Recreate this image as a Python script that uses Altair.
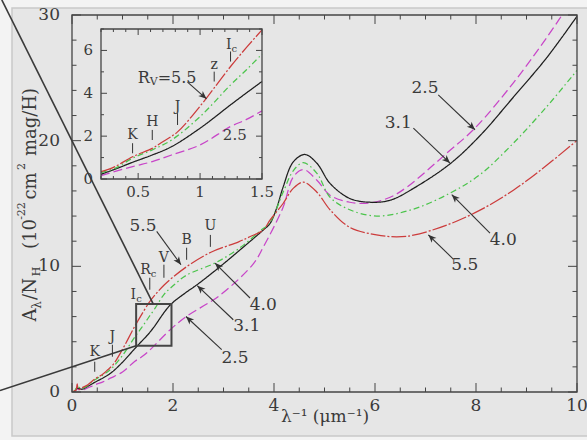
import math
import altair as alt
import pandas as pd

# ---------------------------------------------------------------------------
# Extinction per H nucleon, A_lambda/N_H (1e-22 cm^2 mag/H), versus 1/lambda (um^-1)
# ---------------------------------------------------------------------------
rv25_x = [0, 0.05, 0.103, 0.2, 0.455, 0.614, 0.77, 1.0, 1.246, 1.375, 1.5, 1.94, 2.26,
          2.93, 3.59, 3.79, 4.18, 4.38, 4.58, 4.85, 5.11, 5.5, 5.9, 6.3, 6.63, 7.42,
          7.98, 8.74, 9.4, 10.0]
rv25_y = [0, 0.04, 0.22, 0.16, 0.58, 0.81, 1.12, 1.59, 2.45, 2.78, 3.18, 4.94, 6.0,
          7.7, 10.2, 11.55, 14.7, 17.1, 17.7, 16.85, 15.66, 15.1, 15.05, 15.5, 16.3, 19.0,
          21.0, 24.6, 28.2, 31.8]

rv31_x = [0, 0.05, 0.103, 0.2, 0.31, 0.455, 0.614, 0.77, 1.0, 1.246, 1.375, 1.5, 1.61,
          1.94, 2.25, 2.48, 2.93, 3.46, 3.79, 3.92, 4.05, 4.18, 4.38, 4.61, 4.85, 5.11,
          5.5, 5.9, 6.3, 6.76, 7.49, 8.08, 8.74, 9.4, 10.0]
rv31_y = [0, 0.05, 0.3, 0.22, 0.45, 0.78, 1.12, 1.51, 2.37, 3.46, 4.02, 4.55, 5.1,
          6.9, 7.9, 8.55, 9.97, 11.76, 12.9, 13.4, 14.6, 16.3, 18.3, 18.9, 18.2, 16.6,
          15.4, 15.1, 15.26, 16.2, 18.17, 20.4, 23.46, 26.6, 29.9]

rv40_x = [0, 0.05, 0.103, 0.2, 0.313, 0.455, 0.614, 0.77, 1.0, 1.246, 1.375, 1.5, 1.65,
          1.82, 2.0, 2.27, 2.83, 3.3, 3.72, 3.92, 4.18, 4.38, 4.58, 4.85, 5.11, 5.5,
          6.03, 6.76, 7.52, 8.08, 8.74, 9.4, 10.0]
rv40_y = [0, 0.08, 0.4, 0.3, 0.5, 0.97, 1.36, 1.82, 2.91, 4.39, 5.1, 5.83, 6.7,
          7.75, 8.45, 9.3, 10.26, 11.4, 12.8, 13.5, 15.9, 17.6, 18.25, 17.4, 15.5, 14.5,
          14.0, 14.55, 15.9, 17.3, 19.8, 22.7, 25.6]

rv55_x = [0, 0.05, 0.08, 0.103, 0.125, 0.2, 0.313, 0.455, 0.614, 0.689, 0.818, 1.0,
          1.114, 1.246, 1.375, 1.5, 1.54, 1.82, 2.27, 2.74, 3.3, 3.52, 3.79, 3.92, 4.18,
          4.38, 4.58, 4.85, 5.11, 5.5, 6.03, 6.43, 6.76, 7.42, 8.08, 8.74, 9.4, 10.0]
rv55_y = [0, 0.1, 0.15, 0.65, 0.2, 0.34, 0.58, 1.04, 1.43, 1.70, 2.2, 3.4,
          4.25, 5.25, 6.14, 6.96, 7.2, 8.5, 9.97, 11.1, 11.95, 12.35, 12.9, 13.67, 15.0,
          16.2, 16.7, 15.9, 14.5, 13.1, 12.5, 12.35, 12.48, 13.28, 14.47, 16.06, 18.04, 20.02]

RV = ["2.5", "3.1", "4.0", "5.5"]
RV_COLORS = ["#c845c8", "#1e1e1e", "#4cc44c", "#cc3c3c"]
RV_DASHES = [[9, 4], [1, 0], [6, 3, 1.5, 3], [15, 2, 2, 2]]

# photometric bands marked on the main panel
band_main = ["K", "J", "I", "R", "V", "B", "U"]
band_main_sub = ["", "", "c", "c", "", "", ""]
band_main_x = [0.45, 0.80, 1.25, 1.54, 1.82, 2.27, 2.74]
band_main_lbl_y = [3.17, 4.36, 7.74, 9.73, 10.68, 12.1, 13.17]
band_main_tick_lo = [1.61, 2.81, None, 8.14, 9.09, 10.52, 11.55]
band_main_tick_hi = [2.41, 3.76, None, 9.09, 10.13, 11.48, 12.5]

# photometric bands marked on the near-IR inset
band_ins = ["K", "H", "J", "z", "I"]
band_ins_sub = ["", "", "", "", "c"]
band_ins_x = [0.455, 0.614, 0.818, 1.114, 1.246]
band_ins_lbl_y = [2.06, 2.65, 3.38, 5.3, 6.26]
band_ins_tick_lo = [1.2, 1.82, 2.52, 4.55, 5.48]
band_ins_tick_hi = [1.67, 2.29, 3.07, 5.01, 5.95]

# R_V labels with arrows (label centre, arrow tail, arrow tip) on the main panel
ann_txt = ["5.5", "4.0", "3.1", "2.5", "2.5", "3.1", "4.0", "5.5"]
ann_x = [1.406, 3.788, 3.459, 3.228, 6.99, 6.46, 8.54, 7.78]
ann_y = [13.23, 6.95, 5.22, 2.70, 24.18, 21.4, 12.12, 10.13]
ann_tail_x = [1.677, 3.525, 3.194, 2.964, 7.253, 6.76, 8.277, 7.55]
ann_tail_y = [12.78, 7.48, 5.75, 3.37, 23.65, 21.0, 12.65, 10.58]
ann_tip_x = [2.158, 2.832, 2.481, 2.257, 7.98, 7.485, 7.52, 7.056]
ann_tip_y = [10.13, 10.26, 8.46, 6.01, 20.87, 18.22, 15.7, 12.51]

# inset annotations
ins_rv_x, ins_rv_y = 0.73, 4.72
ins_arrow = (0.899, 4.52, 1.052, 3.74)
ins_25_x, ins_25_y = 1.28, 2.06

# zoom box on the main panel and its two leader lines
box_x = [1.27, 1.97]
box_y = [3.68, 7.0]
lead_x1 = [-1.39, -1.426]
lead_y1 = [31.2, 0.12]
lead_x2 = [1.61, 1.27]
lead_y2 = [7.0, 3.68]

# axis ticks
main_x_major = [0, 2, 4, 6, 8, 10]
main_x_minor = [v / 2 for v in range(0, 21) if v % 4 != 0]
main_y_major = [0, 10, 20, 30]
main_y_minor = [v for v in range(2, 30, 2) if v % 10 != 0]
ins_x_major = [0.5, 1.0, 1.5]
ins_x_minor = [round(0.2 + 0.1 * i, 1) for i in range(13) if round(0.2 + 0.1 * i, 1) not in (0.5, 1.0)]
ins_y_major = [0, 2, 4, 6]
ins_y_minor = [1, 3, 5, 7]

# ---------------------------------------------------------------------------
W, H = 505, 377
X_DOM, Y_DOM = [0, 10], [0, 30]
IX_DOM, IY_DOM = [0.2, 1.5], [0, 7]
IX_RANGE, IY_RANGE = [29, 190], [164, 14]

FONT = "DejaVu Serif"
INK = "#3a3a3a"
FRAME = "#454545"

MX = alt.Scale(domain=X_DOM, nice=False, zero=False)
MY = alt.Scale(domain=Y_DOM, nice=False, zero=False)
IX = alt.Scale(domain=IX_DOM, range=IX_RANGE, nice=False, zero=False)
IY = alt.Scale(domain=IY_DOM, range=IY_RANGE, nice=False, zero=False)


def qx(f, sc):
    return alt.X(f, type="quantitative", scale=sc, axis=None)


def qy(f, sc):
    return alt.Y(f, type="quantitative", scale=sc, axis=None)


one = pd.DataFrame({"k": [0]})

rows = []
for rv, xs, ys in [("2.5", rv25_x, rv25_y), ("3.1", rv31_x, rv31_y),
                   ("4.0", rv40_x, rv40_y), ("5.5", rv55_x, rv55_y)]:
    rows += [{"rv": rv, "x": a, "y": b} for a, b in zip(xs, ys)]
curves = pd.DataFrame(rows)
curves_ins = curves[(curves.x >= IX_DOM[0]) & (curves.x <= IX_DOM[1])]

col_sc = alt.Scale(domain=RV, range=RV_COLORS)
dash_sc = alt.Scale(domain=RV, range=RV_DASHES)


def curve_layer(df, sx, sy, clip):
    return alt.Chart(df).mark_line(strokeWidth=1.25, interpolate="catmull-rom", clip=clip).encode(
        x=qx("x", sx), y=qy("y", sy),
        color=alt.Color("rv:N", scale=col_sc, legend=None),
        strokeDash=alt.StrokeDash("rv:N", scale=dash_sc, legend=None),
        detail="rv:N",
    )


def ticks_h(vals, sx, y_edge, inward):
    d = pd.DataFrame({"v": vals})
    return alt.Chart(d).mark_rule(color=FRAME, strokeWidth=1).encode(
        x=qx("v", sx), y=alt.value(y_edge), y2=alt.value(y_edge + inward))


def ticks_v(vals, sy, x_edge, inward):
    d = pd.DataFrame({"v": vals})
    return alt.Chart(d).mark_rule(color=FRAME, strokeWidth=1).encode(
        y=qy("v", sy), x=alt.value(x_edge), x2=alt.value(x_edge + inward))


def frame(sx, sy, xd, yd, width):
    d = pd.DataFrame({"x": [xd[0]], "x2": [xd[1]], "y": [yd[0]], "y2": [yd[1]]})
    return alt.Chart(d).mark_rect(fill="transparent", stroke=FRAME, strokeWidth=width).encode(
        x=qx("x", sx), x2="x2:Q", y=qy("y", sy), y2="y2:Q")


def arrows(tx, ty, hx, hy, sx, sy, kx, ky):
    ang = [(math.degrees(math.atan2(-(b2 - b1) * ky, (a2 - a1) * kx)) + 360) % 360
           for a1, b1, a2, b2 in zip(tx, ty, hx, hy)]
    d = pd.DataFrame({"x": tx, "y": ty, "x2": hx, "y2": hy, "ang": ang})
    shaft = alt.Chart(d).mark_rule(color="#333333", strokeWidth=1.1).encode(
        x=qx("x", sx), y=qy("y", sy), x2="x2:Q", y2="y2:Q")
    head = alt.Chart(d).mark_point(
        shape="M0,0 L-1,-0.42 L-0.72,0 L-1,0.42 Z", filled=True, size=260,
        color="#333333", opacity=1).encode(
        x=qx("x2", sx), y=qy("y2", sy), angle=alt.Angle("ang:Q", scale=None))
    return shaft + head


def text_layer(df, sx, sy, size, **kw):
    return alt.Chart(df).mark_text(font=FONT, fontSize=size, color=INK, **kw).encode(
        x=qx("x", sx), y=qy("y", sy), text="t:N")


# ---------------- main panel ----------------
KX, KY = W / (X_DOM[1] - X_DOM[0]), H / (Y_DOM[1] - Y_DOM[0])

panel = alt.Chart(one).mark_rect(fill="#e6e6e6", stroke="#c9c9c9", strokeWidth=1.5).encode(
    x=alt.value(-60), x2=alt.value(W + 12), y=alt.value(-7), y2=alt.value(H + 44))

main_layers = [panel, curve_layer(curves, MX, MY, True), frame(MX, MY, X_DOM, Y_DOM, 1.3)]
main_layers += [
    ticks_h(main_x_major, MX, H, -9), ticks_h(main_x_minor, MX, H, -4.5),
    ticks_h(main_x_major, MX, 0, 9), ticks_h(main_x_minor, MX, 0, 4.5),
    ticks_v(main_y_major, MY, 0, 9), ticks_v(main_y_minor, MY, 0, 4.5),
    ticks_v(main_y_major, MY, W, -9), ticks_v(main_y_minor, MY, W, -4.5),
]

# tick labels
main_layers.append(alt.Chart(pd.DataFrame({"v": main_x_major})).mark_text(
    font=FONT, fontSize=17, color=INK, baseline="middle").encode(
    x=qx("v", MX), y=alt.value(H + 14), text=alt.Text("v:Q", format="~g")))
main_layers.append(alt.Chart(pd.DataFrame({"v": main_y_major})).mark_text(
    font=FONT, fontSize=17, color=INK, baseline="middle", align="right").encode(
    y=qy("v", MY), x=alt.value(-12), text=alt.Text("v:Q", format="~g")))

# axis titles
main_layers.append(alt.Chart(one).mark_text(
    font=FONT, fontSize=17, color=INK, baseline="middle", text="λ⁻¹ (μm⁻¹)").encode(
    x=alt.value(253), y=alt.value(H + 25)))
ytitle = [("A", -41, 300, 18), ("λ", -35, 290, 12), ("/N", -41, 274, 18), ("H", -35, 256.5, 11),
          ("(10", -41, 219, 18), ("-22", -50, 196, 11), ("cm", -41, 171, 18),
          ("2", -50, 151.5, 11), ("mag/H)", -41, 107, 18)]
for t, px, py, fs in ytitle:
    main_layers.append(alt.Chart(one).mark_text(
        font=FONT, fontSize=fs, color=INK, angle=270, align="center", baseline="middle",
        text=t).encode(x=alt.value(px), y=alt.value(py)))

# bands
bm = pd.DataFrame({"t": band_main, "s": band_main_sub, "x": band_main_x, "y": band_main_lbl_y,
                   "lo": band_main_tick_lo, "hi": band_main_tick_hi})
bm_plain = bm[bm.s == ""]
bm_sub = bm[bm.s != ""]
bm_ticks = bm.dropna()
main_layers.append(text_layer(bm_plain, MX, MY, 14, baseline="middle"))
main_layers.append(text_layer(bm_sub, MX, MY, 14, baseline="middle", align="right", dx=1))
main_layers.append(alt.Chart(bm_sub).mark_text(
    font=FONT, fontSize=10, color=INK, baseline="middle", align="left", dx=1, dy=4).encode(
    x=qx("x", MX), y=qy("y", MY), text="s:N"))
main_layers.append(alt.Chart(bm_ticks).mark_rule(color="#333333", strokeWidth=1).encode(
    x=qx("x", MX), y=qy("lo", MY), y2="hi:Q"))

# R_V labels and arrows
main_layers.append(text_layer(pd.DataFrame({"t": ann_txt, "x": ann_x, "y": ann_y}),
                              MX, MY, 17, baseline="middle"))
main_layers.append(arrows(ann_tail_x, ann_tail_y, ann_tip_x, ann_tip_y, MX, MY, KX, KY))

# zoom box and leader lines
main_layers.append(frame(MX, MY, box_x, box_y, 2))
main_layers.append(alt.Chart(pd.DataFrame({"x": lead_x1, "y": lead_y1, "x2": lead_x2, "y2": lead_y2}))
                   .mark_rule(color="#3a3a3a", strokeWidth=1.6).encode(
    x=qx("x", MX), y=qy("y", MY), x2="x2:Q", y2="y2:Q"))

main = alt.layer(*main_layers)

# ---------------- inset ----------------
IKX = (IX_RANGE[1] - IX_RANGE[0]) / (IX_DOM[1] - IX_DOM[0])
IKY = (IY_RANGE[0] - IY_RANGE[1]) / (IY_DOM[1] - IY_DOM[0])

ins_layers = [curve_layer(curves_ins, IX, IY, False), frame(IX, IY, IX_DOM, IY_DOM, 1.3)]
ins_layers += [
    ticks_h(ins_x_major, IX, IY_RANGE[0], -6), ticks_h(ins_x_minor, IX, IY_RANGE[0], -3),
    ticks_h(ins_x_major, IX, IY_RANGE[1], 6), ticks_h(ins_x_minor, IX, IY_RANGE[1], 3),
    ticks_v(ins_y_major, IY, IX_RANGE[0], 6), ticks_v(ins_y_minor, IY, IX_RANGE[0], 3),
    ticks_v(ins_y_major, IY, IX_RANGE[1], -6), ticks_v(ins_y_minor, IY, IX_RANGE[1], -3),
]
ins_layers.append(alt.Chart(pd.DataFrame({"v": ins_x_major})).mark_text(
    font=FONT, fontSize=15, color=INK, baseline="middle").encode(
    x=qx("v", IX), y=alt.value(IY_RANGE[0] + 13), text=alt.Text("v:Q", format="~g")))
ins_layers.append(alt.Chart(pd.DataFrame({"v": ins_y_major})).mark_text(
    font=FONT, fontSize=15, color=INK, baseline="middle", align="right").encode(
    y=qy("v", IY), x=alt.value(IX_RANGE[0] - 8), text=alt.Text("v:Q", format="~g")))

bi = pd.DataFrame({"t": band_ins, "s": band_ins_sub, "x": band_ins_x, "y": band_ins_lbl_y,
                   "lo": band_ins_tick_lo, "hi": band_ins_tick_hi})
ins_layers.append(text_layer(bi[bi.s == ""], IX, IY, 14, baseline="middle"))
ins_layers.append(text_layer(bi[bi.s != ""], IX, IY, 14, baseline="middle", align="right", dx=1))
ins_layers.append(alt.Chart(bi[bi.s != ""]).mark_text(
    font=FONT, fontSize=10, color=INK, baseline="middle", align="left", dx=1, dy=4).encode(
    x=qx("x", IX), y=qy("y", IY), text="s:N"))
ins_layers.append(alt.Chart(bi).mark_rule(color="#333333", strokeWidth=1).encode(
    x=qx("x", IX), y=qy("lo", IY), y2="hi:Q"))

rvdf = pd.DataFrame({"x": [ins_rv_x], "y": [ins_rv_y]})
for t, fs, dx, dy in [("R", 16, -29, 0), ("V", 11, -17, 4), ("=5.5", 16, -9, 0)]:
    ins_layers.append(alt.Chart(rvdf).mark_text(
        font=FONT, fontSize=fs, color=INK, baseline="middle", align="left", dx=dx, dy=dy,
        text=t).encode(x=qx("x", IX), y=qy("y", IY)))
ins_layers.append(text_layer(pd.DataFrame({"t": ["2.5"], "x": [ins_25_x], "y": [ins_25_y]}),
                             IX, IY, 15, baseline="middle"))
ins_layers.append(arrows([ins_arrow[0]], [ins_arrow[1]], [ins_arrow[2]], [ins_arrow[3]],
                         IX, IY, IKX, IKY))

inset = alt.layer(*ins_layers)

chart = alt.layer(main, inset).resolve_scale(x="independent", y="independent").properties(
    width=W, height=H,
    padding={"left": 72, "top": 15, "right": 10, "bottom": 48},
    autosize=alt.AutoSizeParams(type="none"),
    background="#f3f3f3",
).configure_view(strokeWidth=0)

chart.save("out.html", embed_options={"renderer": "svg", "actions": False})
